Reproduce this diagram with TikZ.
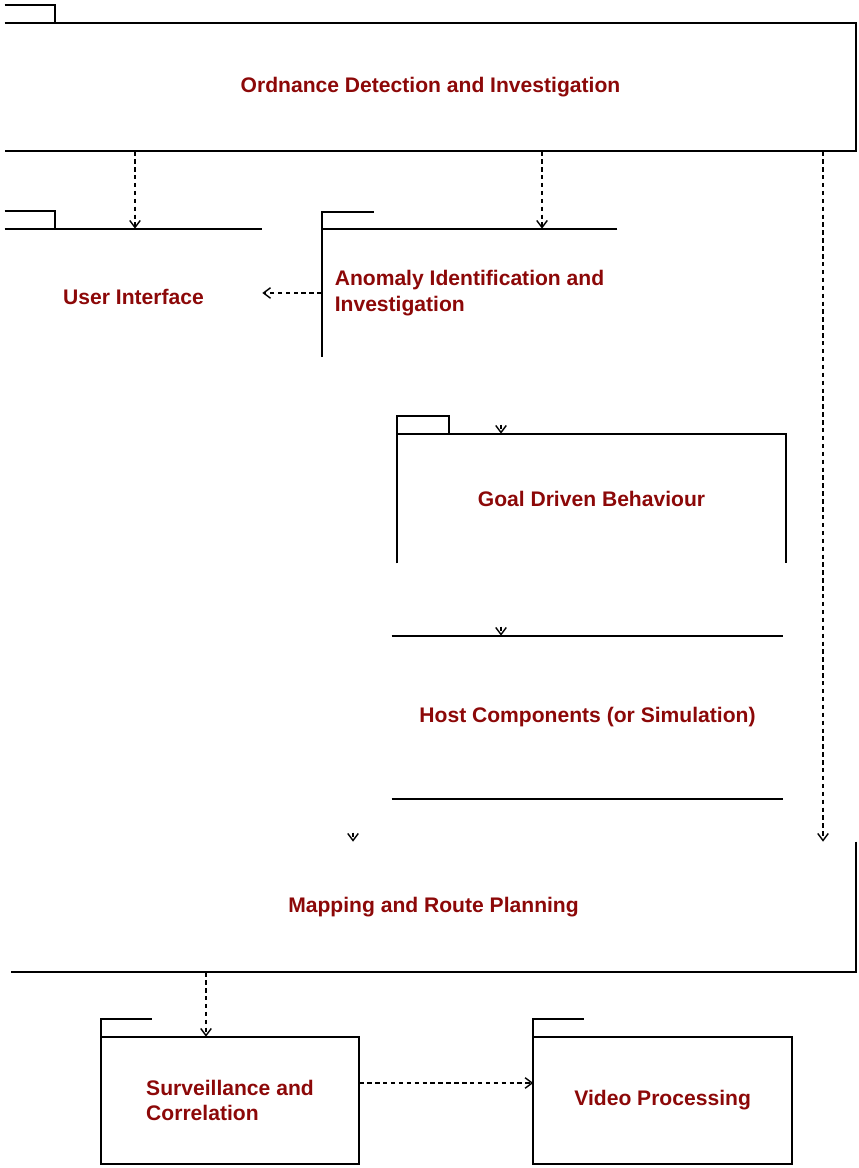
\documentclass[tikz,border=0pt]{standalone}
\usepackage{fontspec}
\setmainfont{Liberation Sans}
\usepackage{xcolor}
\usetikzlibrary{arrows.meta}
\usetikzlibrary{positioning}
\definecolor{vinho}{RGB}{140,8,8}
\tikzset{
  pacote/.style={inner sep=0pt, align=center, text=vinho, font=\bfseries\fontsize{12}{14.5}\selectfont},
  linha/.style={line width=1.1pt},
  depende/.style={-{Straight Barb[length=4pt,width=6pt]}, dash pattern=on 2.5pt off 2pt, line width=0.8pt},
}

\begin{document}
\begin{tikzpicture}[x=0.02cm, y=-0.02cm]
  \useasboundingbox (0,0) rectangle (858,1168);
  \node[pacote, minimum width=17.02cm, minimum height=2.56cm] (ord) at (430.5,87) {Ordnance Detection and Investigation};
  \node[pacote, minimum width=5.14cm, minimum height=2.72cm] (ui) at (133.5,297) {User Interface};
  \node[pacote, minimum width=5.9cm, minimum height=2.56cm, align=left] (anom) at (469.5,293) {Anomaly Identification and\\Investigation};
  \node[pacote, minimum width=7.78cm, minimum height=2.58cm] (goal) at (591.5,498.5) {Goal Driven Behaviour};
  \node[pacote, minimum width=7.82cm, minimum height=3.26cm] (host) at (587.5,717.5) {Host Components (or Simulation)};
  \node[pacote, minimum width=16.9cm, minimum height=2.6cm] (map) at (433.5,907) {Mapping and Route Planning};
  \node[pacote, minimum width=5.16cm, minimum height=2.54cm, align=left] (surv) at (230,1100.5) {Surveillance and\\Correlation};
  \node[pacote, minimum width=5.16cm, minimum height=2.54cm, right=3.48cm of surv] (video) {Video Processing};

  \draw[linha] (ord.north west) -- (ord.north east) -- (ord.south east) -- (ord.south west);
  \draw[linha] (ord.north west) ++(0,-18) -- ++(50,0) -- ++(0,18);
  \draw[linha] (ui.north west) -- (ui.north east);
  \draw[linha] (ui.north west) ++(0,-18) -- ++(50,0) -- ++(0,18);
  \draw[linha] (anom.north east) -- (anom.north west) -- (anom.south west);
  \draw[linha] (anom.north west) -- ++(0,-17) -- ++(52,0);
  \draw[linha] (goal.south west) -- (goal.north west) -- (goal.north east) -- (goal.south east);
  \draw[linha] (goal.north west) -- ++(0,-18) -- ++(52,0) -- ++(0,18);
  \draw[linha] (host.north west) -- (host.north east);
  \draw[linha] (host.south west) -- (host.south east);
  \draw[linha] (map.north east) -- (map.south east) -- (map.south west);
  \draw[linha] (surv.north west) rectangle (surv.south east);
  \draw[linha] (surv.north west) -- ++(0,-18) -- ++(51,0);
  \draw[linha] (video.north west) rectangle (video.south east);
  \draw[linha] (video.north west) -- ++(0,-18) -- ++(51,0);

  \draw[depende] (ord.south -| 135,0) -- (ui.north -| 135,0);
  \draw[depende] (ord.south -| 542,0) -- (anom.north -| 542,0);
  \draw[depende] (ord.south -| 823,0) -- (map.north -| 823,0);
  \draw[depende] (anom.west) -- (anom.west -| ui.east);
  \draw[depende] (goal.north -| 501,0) ++(0,-9) -- ++(0,9);
  \draw[depende] (host.north -| 501,0) ++(0,-9) -- ++(0,9);
  \draw[depende] (map.north -| 353,0) ++(0,-9) -- ++(0,9);
  \draw[depende] (map.south -| 206,0) -- (surv.north -| 206,0);
  \draw[depende] (surv.east |- 0,1083) -- (video.west |- 0,1083);
\end{tikzpicture}
\end{document}
